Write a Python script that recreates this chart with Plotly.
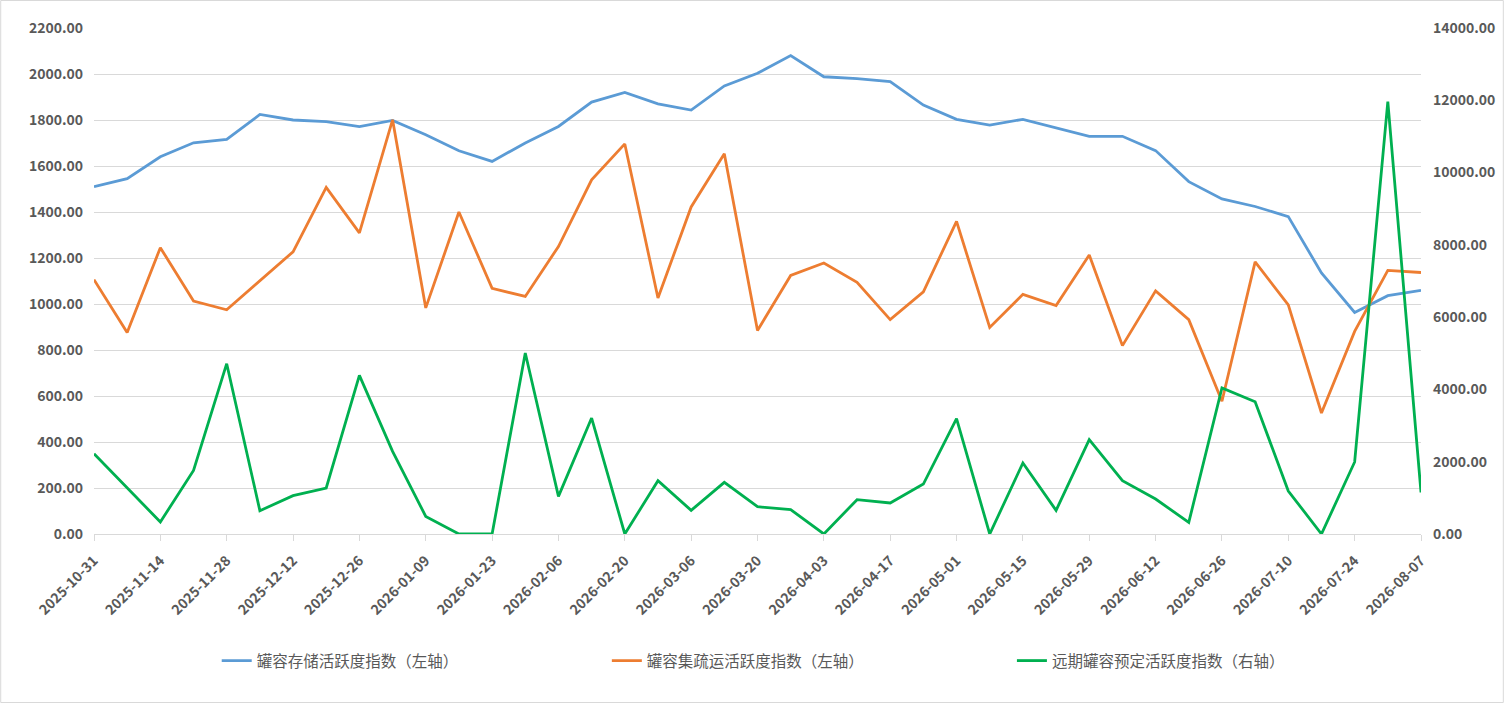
import plotly.graph_objects as go
import pandas as pd

dates = [d.strftime("%Y-%m-%d") for d in pd.date_range("2025-10-31", "2026-08-07", freq="7D")]

storage_index = [1510, 1545, 1640, 1701, 1716, 1824, 1800, 1793, 1771, 1798,
                 1736, 1666, 1620, 1700, 1772, 1878, 1920, 1870, 1843, 1948,
                 2003, 2080, 1988, 1980, 1967, 1865, 1803, 1778, 1803, 1767,
                 1729, 1729, 1667, 1532, 1457, 1424, 1380, 1135, 963, 1036, 1059]

transport_index = [1106, 876, 1245, 1013, 975, 1101, 1227, 1507, 1309, 1801,
                   983, 1400, 1068, 1033, 1250, 1540, 1696, 1026, 1422, 1653,
                   885, 1124, 1178, 1094, 932, 1053, 1359, 898, 1042, 993,
                   1213, 819, 1057, 932, 577, 1183, 996, 526, 881, 1146, 1137]

forward_index = [2222, 1290, 332, 1760, 4712, 645, 1060, 1273, 4389, 2286,
                 487, 0, 0, 5008, 1040, 3209, 0, 1475, 653, 1428,
                 755, 672, 0, 949, 858, 1383, 3190, 0, 1964, 653,
                 2609, 1475, 968, 321, 4039, 3660, 1190, 0, 1992, 11961, 1151]

series_names = ["罐容存储活跃度指数（左轴）", "罐容集疏运活跃度指数（左轴）", "远期罐容预定活跃度指数（右轴）"]
colors = ["#5B9BD5", "#ED7D31", "#00B050"]

tick_dates = dates[::2]

FONT = "Noto Sans CJK SC, Liberation Sans, sans-serif"
GRAY = "#595959"

fig = go.Figure()
fig.add_trace(go.Scatter(x=dates, y=storage_index, name=series_names[0], mode="lines",
                         line=dict(color=colors[0], width=2.8), legend="legend", showlegend=True))
fig.add_trace(go.Scatter(x=dates, y=transport_index, name=series_names[1], mode="lines",
                         line=dict(color=colors[1], width=2.8), legend="legend2", showlegend=True))
fig.add_trace(go.Scatter(x=dates, y=forward_index, name=series_names[2], mode="lines",
                         line=dict(color=colors[2], width=2.8), yaxis="y2", legend="legend3",
                         showlegend=True))

L, R, T, B = 94, 83, 28, 169
W, H = 1507, 703
pw, ph = W - L - R, H - T - B

def px_x(x):
    return (x - L) / pw

def px_y(y):
    return (H - B - y) / ph

leg_common = dict(orientation="h", yanchor="middle", xanchor="left",
                  font=dict(family=FONT, size=15.5, color=GRAY), bgcolor="rgba(0,0,0,0)",
                  itemwidth=30)

tickfont = dict(family=FONT, size=14, color=GRAY, weight="bold")

fig.update_layout(
    width=W, height=H,
    showlegend=True,
    margin=dict(l=L, r=R, t=T, b=B),
    paper_bgcolor="white", plot_bgcolor="white",
    font=dict(family=FONT, size=14, color=GRAY),
    xaxis=dict(type="category", range=[0, len(dates) - 1],
               tickmode="array", tickvals=tick_dates, ticktext=tick_dates,
               tickangle=-45, ticks="outside", ticklen=6, tickcolor="#D9D9D9",
               showgrid=False, showline=True, linecolor="#D9D9D9", linewidth=1,
               ticklabelstandoff=6, tickfont=tickfont),
    yaxis=dict(range=[0, 2200], dtick=200, tickformat=".2f",
               showgrid=True, gridcolor="#D9D9D9", gridwidth=1, zeroline=False,
               ticklabelstandoff=10, tickfont=tickfont),
    yaxis2=dict(range=[0, 14000], dtick=2000, tickformat=".2f", overlaying="y", side="right",
                showgrid=False, zeroline=False, ticklabelstandoff=11, tickfont=tickfont),
    legend=dict(x=px_x(217), y=px_y(661), **leg_common),
    legend2=dict(x=px_x(608), y=px_y(661), **leg_common),
    legend3=dict(x=px_x(1014), y=px_y(661), **leg_common),
    shapes=[dict(type="rect", xref="paper", yref="paper",
                 x0=px_x(0.5), x1=px_x(W - 0.5), y0=px_y(H - 0.5), y1=px_y(0.5),
                 line=dict(color="#D9D9D9", width=1), layer="below")],
)

fig.write_html("out.html", config={"displayModeBar": False},
               post_script="document.body.style.margin='0';document.body.style.padding='0';"
                           "document.body.style.overflow='hidden';"
                           "document.documentElement.style.overflow='hidden';")
